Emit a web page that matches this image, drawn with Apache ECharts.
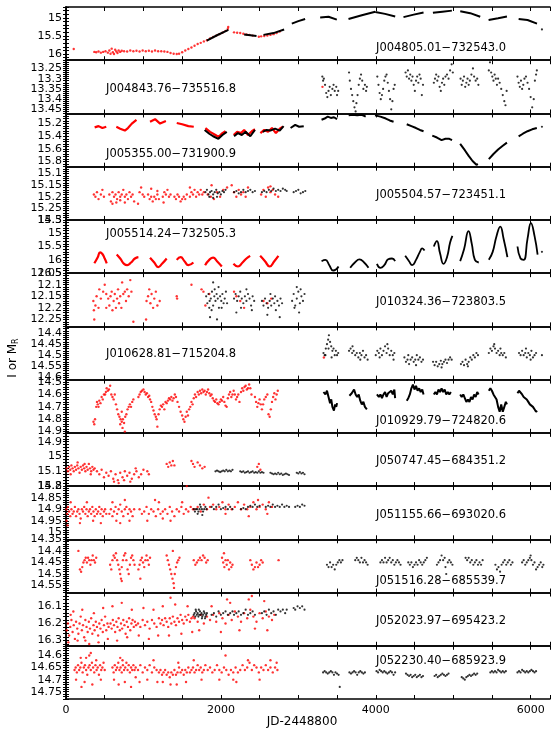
<!DOCTYPE html>
<html>
<head>
<meta charset="utf-8">
<script src="https://cdn.jsdelivr.net/npm/echarts@6/dist/echarts.min.js"></script>
<style>
html, body { margin: 0; padding: 0; background: #fff; }
#chart { width: 556px; height: 741px; }
</style>
</head>
<body>
<div id="chart"></div>
<script>
// star names, one per panel, top to bottom
const starNames = [
  'J004805.01−732543.0', 'J004843.76−735516.8', 'J005355.00−731900.9',
  'J005504.57−723451.1', 'J005514.24−732505.3', 'J010324.36−723803.5',
  'J010628.81−715204.8', 'J010929.79−724820.6', 'J050747.45−684351.2',
  'J051155.66−693020.6', 'J051516.28−685539.7', 'J052023.97−695423.2',
  'J052230.40−685923.9'
];
const nameX = [376, 106, 106, 376, 106, 376, 106, 376, 376, 376, 376, 376, 376];
const nameY = [48, 89, 154, 195, 234, 302, 354, 421, 461, 515, 581, 621, 661];

// magnitude axes (inverted), tick step and label step
const yMin = [14.7, 13.21, 15.04, 15.07, 14.5, 12.05, 14.37, 14.48, 14.84, 14.8, 14.35, 16.02, 14.56];
const yMax = [16.17, 13.47, 15.88, 15.3, 16.5, 12.28, 14.61, 14.91, 15.2, 15.03, 14.58, 16.33, 14.78];
const yStep = [0.1, 0.01, 0.04, 0.01, 0.1, 0.01, 0.01, 0.02, 0.02, 0.01, 0.01, 0.02, 0.01];
const yLabelStep = [0.5, 0.05, 0.2, 0.05, 0.5, 0.05, 0.05, 0.1, 0.1, 0.05, 0.05, 0.1, 0.05];

const xTickLabels = [0, 2000, 4000, 6000];

// ---- panel 1
const p1Red = [[100,15.86],
  [366,15.94],[390,15.95],[420,15.93],[450,15.96],[480,15.94],[510,15.92],[540,15.96],[560,15.9],[575,15.99],[590,15.85],[605,15.95],[620,16.0],[635,15.88],[650,15.93],[665,15.97],[680,15.9],[700,15.94],[720,15.91],
  [750,15.92],[790,15.93],[830,15.9],[870,15.92],[910,15.91],[950,15.93],[990,15.9],[1030,15.92],[1070,15.91],[1110,15.93],[1150,15.9],[1190,15.92],[1230,15.92],[1270,15.93],[1310,15.94],
  [1350,15.97],[1390,15.99],[1430,16.0],[1460,15.99],
  [1500,15.95],[1540,15.9],[1580,15.86],[1620,15.82],[1660,15.77],[1700,15.72],[1740,15.69],[1780,15.65],[1820,15.62],[1860,15.57],[1900,15.53],[1940,15.49],[1980,15.45],[2020,15.41],[2060,15.36],[2090,15.3],[2095,15.25],
  [2170,15.4],[2210,15.41],[2250,15.42],[2290,15.44],[2330,15.46],[2370,15.47],[2410,15.49],
  [2490,15.52],[2520,15.51],[2560,15.5],[2600,15.49],[2640,15.47],[2680,15.45],[2720,15.42],[2760,15.38]];
const p1BlackSegs = [
  [[1818,15.63],[1950,15.48],[2097,15.33]],
  [[2300,15.46],[2460,15.5]],
  [[2550,15.47],[2680,15.42],[2817,15.32]],
  [[2916,15.16],[3000,15.09],[3088,15.03]],
  [[3282,14.99],[3390,14.97],[3497,15.05]],
  [[3648,15.03],[3820,14.93],[3993,14.83]],
  [[3993,14.84],[4120,14.89],[4251,14.96]],
  [[4358,14.98],[4490,14.91],[4617,14.85]],
  [[4738,14.86],[4860,14.83],[4983,14.8]],
  [[5091,14.82],[5220,14.87],[5349,14.97]],
  [[5457,15.06],[5580,15.01],[5694,14.96]],
  [[5845,15.03],[5960,15.06],[6082,15.16]]];
const p1Black = [[6146,15.32]];

// ---- panel 2
const p2Red = [[3312,13.34]];
const p2Black = [
  [3310,13.29],[3320,13.31],[3330,13.3],[3345,13.33],[3360,13.37],[3375,13.39],[3390,13.36],[3405,13.34],[3420,13.38],[3440,13.35],[3455,13.33],[3470,13.36],[3490,13.34],[3500,13.38],[3515,13.36],
  [3655,13.27],[3665,13.31],[3680,13.35],[3695,13.38],[3710,13.41],[3725,13.44],[3740,13.46],[3750,13.42],[3765,13.38],[3780,13.33],[3795,13.3],[3810,13.28],[3825,13.31],[3840,13.35],[3860,13.33],[3875,13.36],[3885,13.34],
  [4020,13.29],[4035,13.33],[4050,13.37],[4065,13.4],[4080,13.38],[4095,13.35],[4110,13.31],[4125,13.29],[4140,13.28],[4155,13.32],[4170,13.36],[4185,13.4],[4200,13.45],[4215,13.41],[4230,13.35],[4245,13.33],
  [4385,13.27],[4400,13.29],[4415,13.26],[4430,13.3],[4445,13.28],[4460,13.31],[4475,13.29],[4490,13.33],[4505,13.36],[4520,13.31],[4535,13.29],[4550,13.32],[4565,13.28],[4580,13.3],[4595,13.38],[4610,13.33],
  [4750,13.32],[4765,13.3],[4780,13.28],[4795,13.31],[4810,13.29],[4825,13.34],[4840,13.36],[4855,13.32],[4870,13.3],[4885,13.33],[4900,13.29],[4920,13.28],[4940,13.3],[4960,13.26],[4980,13.23],[4995,13.27],
  [5095,13.3],[5110,13.33],[5125,13.31],[5140,13.29],[5155,13.34],[5170,13.32],[5185,13.3],[5200,13.33],[5215,13.31],[5235,13.28],[5255,13.25],[5270,13.29],[5290,13.31],[5310,13.3],[5325,13.33],
  [5460,13.26],[5475,13.22],[5490,13.27],[5505,13.29],[5520,13.31],[5535,13.28],[5550,13.3],[5565,13.33],[5580,13.3],[5600,13.32],[5620,13.35],[5640,13.38],[5660,13.41],[5675,13.43],[5690,13.36],
  [5830,13.29],[5845,13.32],[5860,13.34],[5875,13.31],[5890,13.35],[5905,13.33],[5920,13.3],[5940,13.29],[5960,13.32],[5980,13.35],[6000,13.39],[6020,13.44],[6040,13.4],[6055,13.31],[6070,13.28],[6080,13.26]];

// ---- panel 3
const p3RedSegs = [
  [[370,15.26],[420,15.24],[470,15.27],[520,15.25]],
  [[650,15.25],[700,15.28],[760,15.31],[800,15.27],[850,15.2],[910,15.14]],
  [[1085,15.17],[1150,15.13],[1215,15.2],[1290,15.16]],
  [[1430,15.19],[1500,15.21],[1580,15.24],[1650,15.25]],
  [[1800,15.27],[1860,15.33],[1930,15.38],[1970,15.41],[2010,15.36],[2060,15.32]],
  [[2165,15.38],[2210,15.33],[2260,15.35],[2300,15.3],[2350,15.38],[2400,15.32],[2440,15.29]],
  [[2510,15.35],[2560,15.3],[2610,15.33],[2660,15.27],[2710,15.35],[2760,15.28],[2800,15.25]]];
const p3BlackSegs = [
  [[1790,15.3],[1850,15.36],[1900,15.4],[1968,15.44],[2020,15.38],[2076,15.33]],
  [[2170,15.4],[2220,15.35],[2270,15.38],[2320,15.33],[2380,15.4],[2440,15.3]],
  [[2540,15.33],[2590,15.3],[2640,15.31],[2700,15.28],[2760,15.31],[2810,15.24]],
  [[2900,15.27],[2960,15.22],[3010,15.25],[3070,15.24]],
  [[3300,15.14],[3340,15.12],[3380,15.09],[3420,15.11],[3460,15.1],[3500,15.13]],
  [[3650,15.07],[3700,15.06],[3760,15.07],[3820,15.06],[3870,15.09]],
  [[3990,15.07],[4060,15.09],[4130,15.12],[4180,15.15],[4230,15.17]],
  [[4400,15.21],[4460,15.24],[4520,15.27],[4570,15.3],[4617,15.32]],
  [[4730,15.39],[4790,15.42],[4850,15.46],[4900,15.44],[4950,15.44],[4985,15.46]],
  [[5090,15.52],[5150,15.62],[5200,15.71],[5250,15.79],[5300,15.85],[5320,15.84]],
  [[5460,15.76],[5520,15.68],[5580,15.61],[5640,15.55],[5694,15.5]],
  [[5845,15.4],[5900,15.36],[5960,15.32],[6020,15.29],[6080,15.27]]];
const p3Black = [[6146,15.25]];

// ---- panel 4
const p4Red = [
  [360,15.19],[380,15.2],[400,15.18],[420,15.21],[450,15.19],[470,15.17],[490,15.2],
  [560,15.19],[580,15.22],[600,15.18],[620,15.2],[640,15.19],[660,15.21],[680,15.18],[700,15.2],[720,15.19],[740,15.17],[760,15.2],[780,15.19],[800,15.21],[820,15.18],[840,15.2],[860,15.19],[880,15.22],[600,15.23],[650,15.225],[700,15.215],
  [950,15.18],[970,15.16],[990,15.19],[1010,15.2],
  [1060,15.19],[1080,15.21],[1100,15.2],[1120,15.22],[1140,15.2],[1160,15.21],[1180,15.19],[1200,15.21],
  [1250,15.2],[1270,15.18],[1290,15.19],[1310,15.17],[1330,15.2],[1350,15.19],
  [1400,15.2],[1420,15.21],[1440,15.19],[1460,15.2],[1480,15.22],[1500,15.21],[1520,15.2],[1540,15.21],[1560,15.19],
  [1600,15.2],[1620,15.18],[1640,15.19],[1660,15.17],[1680,15.2],[1700,15.18],[1720,15.19],[1740,15.17],[1760,15.19],[1780,15.18],
  [1830,15.19],[1870,15.2],[1910,15.21],[1950,15.18],[1990,15.2],[2030,15.17],[2080,15.16],
  [2170,15.18],[2200,15.2],[2230,15.17],[2260,15.19],[2290,15.18],[2320,15.2],[2350,15.16],
  [2520,15.19],[2550,15.17],[2580,15.2],[2610,15.16],[2640,15.18],[2670,15.17],[2700,15.19],[2740,15.2],
  [1100,15.165],[1180,15.175],[1600,15.16],[2140,15.15],[2640,15.155],[1880,15.15],[930,15.23],[1260,15.225],[760,15.225]];
const p4Black = [
  [1800,15.18],[1820,15.17],[1840,15.19],[1860,15.18],[1880,15.175],[1900,15.19],[1920,15.18],[1940,15.17],[1960,15.185],[1980,15.18],[2000,15.19],[2020,15.175],[2040,15.18],[2060,15.17],[1850,15.2],[1900,15.205],[1950,15.2],
  [2170,15.18],[2200,15.175],[2230,15.185],[2260,15.18],[2290,15.17],[2320,15.18],[2350,15.175],[2380,15.17],[2410,15.18],[2440,15.175],
  [2530,15.18],[2560,15.175],[2590,15.18],[2620,15.17],[2650,15.175],[2680,15.165],[2710,15.175],[2740,15.17],[2770,15.175],[2800,15.165],[2830,15.17],[2850,15.175],
  [2940,15.18],[2970,15.175],[3000,15.17],[3030,15.185],[3060,15.18],[3090,15.175]];

// ---- panel 5
const p5RedSegs = [
  [[366,16.13],[410,15.9],[440,15.72],[470,15.78],[500,15.95],[526,16.13]],
  [[655,15.8],[700,15.95],[750,16.15],[790,16.2],[840,16.1],[890,15.95],[935,15.9]],
  [[1085,15.92],[1140,16.1],[1190,16.27],[1240,16.15],[1300,15.95]],
  [[1430,16.0],[1480,15.9],[1530,16.05],[1580,16.2],[1645,16.1]],
  [[1796,16.2],[1850,16.0],[1900,15.92],[1950,16.05],[2012,16.25]],
  [[2162,16.15],[2220,16.25],[2280,16.1],[2330,15.95],[2378,15.85]],
  [[2507,15.85],[2570,16.05],[2630,16.25],[2690,16.05],[2743,15.85]]];
const p5BlackSegs = [
  [[3300,16.05],[3350,16.0],[3400,16.2],[3450,16.4],[3490,16.35],[3519,16.25]],
  [[3670,16.3],[3730,16.1],[3790,15.98],[3850,16.1],[3906,16.3]],
  [[4015,16.15],[4060,16.3],[4110,16.2],[4160,15.98],[4210,15.95],[4250,16.05]],
  [[4380,15.85],[4430,16.05],[4470,16.2],[4520,16.0],[4570,15.7],[4600,15.57],[4630,15.65]],
  [[4750,15.5],[4789,15.3],[4830,15.75],[4875,16.15],[4920,15.9],[4960,15.35],[4990,15.1]],
  [[5090,16.05],[5140,15.6],[5198,14.92],[5240,15.4],[5280,16.0],[5330,16.1]],
  [[5460,16.0],[5510,15.7],[5560,15.1],[5608,14.75],[5650,15.2],[5700,15.9]],
  [[5830,15.5],[5870,15.95],[5910,16.0],[5960,15.2],[6004,14.62],[6050,15.1],[6090,15.8]]];
const p5Black = [[6146,15.7]];

// ---- panel 6
const p6Red = [
  [353,12.17],[360,12.21],[365,12.25],[380,12.19],[395,12.15],[420,12.2],[430,12.12],[450,12.16],[480,12.13],[500,12.1],[520,12.14],[545,12.16],[560,12.19],[575,12.15],[590,12.13],[600,12.21],[615,12.17],[630,12.14],[645,12.2],[660,12.16],[672,12.12],[685,12.18],[700,12.15],[715,12.2],[725,12.09],[740,12.14],[760,12.13],[775,12.17],[790,12.12],[810,12.15],[830,12.08],[845,12.13],
  [1040,12.17],[1060,12.15],[1075,12.12],[1090,12.18],[1105,12.14],[1125,12.2],[1140,12.16],[1160,12.13],[1180,12.19],[1210,12.17],[870,12.26],[520,12.2],[1034,12.25],
  [1430,12.15],[1435,12.16],
  [1750,12.12],[1775,12.13],[1800,12.19],[1850,12.14],[2200,12.15],[2250,12.17],[2300,12.2],[2170,12.13],[2550,12.17],[2600,12.18],[2650,12.16],[1620,12.1]];
const p6Black = [
  [1810,12.15],[1825,12.18],[1840,12.14],[1855,12.17],[1870,12.16],[1885,12.13],[1900,12.19],[1915,12.15],[1930,12.17],[1945,12.14],[1960,12.16],[1975,12.2],[1990,12.15],[2005,12.17],[2020,12.14],[2035,12.18],[2050,12.16],[2065,12.13],[1850,12.2],[1880,12.21],[1920,12.12],[1970,12.11],[2010,12.2],[1860,12.24],[1950,12.25],[1900,12.09],[2080,12.18],
  [2170,12.16],[2190,12.14],[2210,12.17],[2230,12.15],[2250,12.13],[2270,12.16],[2290,12.18],[2310,12.15],[2330,12.17],[2350,12.14],[2370,12.16],[2390,12.19],[2410,12.15],[2430,12.17],[2260,12.2],[2330,12.12],[2400,12.21],[2200,12.22],
  [2530,12.17],[2550,12.19],[2570,12.16],[2590,12.18],[2610,12.2],[2630,12.17],[2650,12.19],[2670,12.16],[2690,12.18],[2710,12.21],[2730,12.17],[2750,12.19],[2770,12.16],[2790,12.18],[2600,12.23],[2700,12.15],[2760,12.24],[2640,12.14],
  [2920,12.17],[2940,12.14],[2960,12.19],[2980,12.16],[3000,12.13],[3020,12.18],[3040,12.15],[3060,12.17],[3080,12.14],[2950,12.2],[3010,12.22],[2980,12.11],[3030,12.12]];

// ---- panel 7
const p7Red = [[3330,14.51]];
const p7Black = [
  [3325,14.49],[3340,14.5],[3355,14.47],[3370,14.45],[3385,14.43],[3395,14.41],[3410,14.44],[3425,14.46],[3440,14.48],[3455,14.47],[3470,14.5],[3485,14.48],[3500,14.5],[3515,14.49],[3390,14.47],[3430,14.51],[3350,14.5],
  [3655,14.48],[3675,14.47],[3695,14.49],[3715,14.48],[3735,14.5],[3755,14.49],[3775,14.51],[3795,14.49],[3815,14.5],[3835,14.48],[3855,14.51],[3875,14.5],[3895,14.52],[3700,14.46],[3800,14.52],
  [4000,14.5],[4020,14.48],[4040,14.49],[4060,14.47],[4080,14.5],[4100,14.48],[4120,14.46],[4140,14.49],[4160,14.47],[4180,14.5],[4200,14.48],[4220,14.5],[4240,14.49],[4050,14.51],[4150,14.45],[4230,14.52],
  [4370,14.51],[4390,14.53],[4410,14.52],[4430,14.54],[4450,14.52],[4470,14.51],[4490,14.53],[4510,14.52],[4530,14.5],[4550,14.52],[4570,14.51],[4590,14.53],[4610,14.52],[4420,14.5],[4520,14.545],
  [4740,14.53],[4760,14.545],[4780,14.53],[4800,14.55],[4820,14.54],[4840,14.525],[4860,14.54],[4880,14.53],[4900,14.52],[4920,14.535],[4940,14.52],[4960,14.51],[4980,14.52],[4850,14.555],
  [5100,14.54],[5120,14.53],[5140,14.545],[5160,14.52],[5180,14.54],[5200,14.53],[5220,14.51],[5240,14.52],[5260,14.5],[5280,14.51],[5300,14.49],[5320,14.5],[5190,14.55],
  [5460,14.49],[5480,14.47],[5500,14.48],[5520,14.46],[5540,14.47],[5560,14.49],[5580,14.48],[5600,14.5],[5620,14.49],[5640,14.5],[5660,14.49],[5680,14.51],[5530,14.45],[5610,14.47],
  [5850,14.49],[5870,14.5],[5890,14.48],[5910,14.5],[5930,14.49],[5950,14.51],[5970,14.49],[5990,14.5],[6010,14.48],[6030,14.51],[6050,14.5],[6070,14.49],[5940,14.47],[6000,14.52],[6146,14.5]];

// ---- panel 8
const p8Red = [
  [355,14.82],[365,14.84],[375,14.8],
  [390,14.7],[400,14.66],[410,14.68],[420,14.7],[430,14.65],[445,14.67],[460,14.62],[475,14.64],[490,14.6],[505,14.6],[515,14.58],[525,14.55],
  [540,14.57],[555,14.56],[570,14.53],[585,14.6],[600,14.62],[615,14.64],[630,14.6],
  [645,14.68],[660,14.72],[675,14.76],[690,14.78],[705,14.8],[720,14.82],[735,14.8],[750,14.83],[765,14.78],[780,14.76],[795,14.72],[810,14.7],[825,14.68],[840,14.7],[855,14.66],[870,14.64],[730,14.87],[760,14.9],[700,14.84],[720,14.74],
  [935,14.62],[950,14.6],[965,14.58],[980,14.57],[1000,14.56],[1015,14.58],[1030,14.6],[1045,14.59],[1060,14.62],[1075,14.61],[1085,14.64],
  [1100,14.66],[1115,14.7],[1130,14.73],[1145,14.76],[1160,14.78],[1170,14.8],[1180,14.86],[1195,14.76],[1210,14.72],
  [1225,14.69],[1240,14.7],[1255,14.68],[1270,14.72],[1285,14.66],[1300,14.67],[1315,14.65],[1330,14.63],[1345,14.64],[1360,14.62],[1375,14.65],
  [1390,14.63],[1405,14.6],[1420,14.62],[1440,14.66],[1460,14.7],[1480,14.74],[1500,14.77],[1515,14.8],[1530,14.82],[1545,14.78],[1560,14.74],[1575,14.77],[1590,14.72],[1605,14.7],[1620,14.66],[1635,14.68],
  [1650,14.63],[1665,14.6],[1680,14.62],[1700,14.58],[1715,14.6],[1730,14.57],[1745,14.59],[1760,14.56],[1775,14.58],[1790,14.57],[1805,14.6],[1820,14.58],[1835,14.56],[1850,14.59],[1865,14.61],[1880,14.6],[1895,14.63],
  [1910,14.65],[1925,14.66],[1940,14.64],[1955,14.67],[1970,14.68],[1985,14.66],[2000,14.64],[2015,14.65],[2030,14.62],[2045,14.66],[2060,14.69],[2075,14.7],
  [2090,14.63],[2105,14.6],[2120,14.58],[2135,14.62],[2150,14.6],[2165,14.57],[2180,14.6],[2195,14.64],[2210,14.62],[2225,14.6],[2240,14.66],
  [2260,14.58],[2275,14.55],[2290,14.57],[2305,14.54],[2320,14.53],[2335,14.56],[2350,14.55],[2365,14.52],[2380,14.55],[2395,14.6],
  [2440,14.62],[2455,14.66],[2470,14.7],[2485,14.67],[2500,14.64],[2515,14.68],[2530,14.72],[2545,14.68],[2560,14.64],[2580,14.62],[2600,14.6],[2615,14.76],[2630,14.78],[2645,14.72],[2660,14.66],[2675,14.62],[2690,14.59],[2705,14.64],[2720,14.6],[2735,14.57]];
const p8BlackSegs = [
  [[3325,14.58],[3350,14.6],[3370,14.57],[3390,14.62],[3410,14.67],[3425,14.64],[3440,14.7],[3460,14.73],[3475,14.68],[3490,14.7],[3500,14.67]],
  [[3660,14.61],[3690,14.59],[3720,14.56],[3740,14.6],[3760,14.62],[3780,14.6],[3800,14.65],[3820,14.68],[3840,14.66],[3860,14.7],[3885,14.72]],
  [[4015,14.6],[4040,14.62],[4060,14.6],[4080,14.63],[4100,14.6],[4120,14.58],[4140,14.62],[4160,14.59],[4180,14.6],[4200,14.57],[4220,14.6],[4240,14.56],[4250,14.63]],
  [[4400,14.65],[4420,14.63],[4440,14.6],[4460,14.55],[4480,14.52],[4500,14.56],[4520,14.53],[4540,14.57],[4560,14.55],[4580,14.58],[4600,14.56],[4617,14.6]],
  [[4750,14.6],[4770,14.58],[4790,14.6],[4810,14.56],[4830,14.58],[4850,14.55],[4870,14.58],[4890,14.56],[4910,14.6],[4930,14.58],[4950,14.6],[4970,14.58]],
  [[5090,14.6],[5110,14.62],[5130,14.6],[5150,14.63],[5170,14.66],[5190,14.64],[5210,14.66],[5230,14.62],[5250,14.64],[5270,14.6],[5290,14.62],[5310,14.58],[5328,14.6]],
  [[5460,14.57],[5480,14.55],[5500,14.57],[5520,14.6],[5540,14.6],[5560,14.64],[5580,14.7],[5600,14.74],[5620,14.68],[5640,14.74],[5660,14.7],[5680,14.66],[5694,14.68]],
  [[5830,14.59],[5850,14.57],[5870,14.58],[5890,14.6],[5910,14.62],[5930,14.61],[5950,14.64],[5970,14.66],[5990,14.68],[6010,14.67],[6030,14.7],[6050,14.72],[6070,14.74],[6082,14.73]]];

// ---- panel 9
const p9Red = [
  [10,15.08],[25,15.1],[40,15.07],[55,15.09],[70,15.06],[85,15.08],[100,15.1],[115,15.07],[130,15.09],[145,15.06],[160,15.08],[175,15.11],[190,15.07],[205,15.09],[220,15.06],[235,15.08],[250,15.1],[265,15.07],[280,15.09],[295,15.05],[310,15.08],[325,15.1],[340,15.07],[355,15.09],[370,15.08],[60,15.12],[150,15.04],[240,15.05],[320,15.12],
  [400,15.1],[430,15.12],[460,15.09],[490,15.14],[520,15.11],[550,15.13],[580,15.1],[610,15.15],[640,15.12],[670,15.16],[700,15.11],[730,15.14],[760,15.1],[790,15.13],[820,15.11],[850,15.15],[880,15.12],[910,15.1],[940,15.14],[970,15.12],[1000,15.09],[620,15.17],[680,15.18],[750,15.16],[830,15.17],[900,15.08],[1050,15.1],[1070,15.12],
  [1300,15.05],[1320,15.07],[1340,15.04],[1360,15.06],[1380,15.03],[1400,15.06],[1620,15.03],[1640,15.05],[1660,15.07],[1700,15.04],[1730,15.06],[1760,15.08],[1790,15.07],[2470,15.07],[2490,15.05],[2510,15.09]];
const p9Black = [
  [1930,15.1],[1950,15.095],[1970,15.1],[1990,15.105],[2010,15.1],[2030,15.095],[2050,15.1],[2070,15.09],[2090,15.1],[2110,15.095],[2130,15.1],[2150,15.09],
  [2250,15.1],[2270,15.105],[2290,15.1],[2310,15.11],[2330,15.105],[2350,15.1],[2370,15.11],[2390,15.105],[2410,15.1],[2430,15.11],[2450,15.105],[2470,15.11],[2490,15.1],[2510,15.11],[2530,15.105],[2550,15.11],
  [2640,15.11],[2660,15.115],[2680,15.12],[2700,15.115],[2720,15.12],[2740,15.11],[2760,15.12],[2780,15.115],[2800,15.125],[2820,15.12],[2840,15.115],[2860,15.12],[2880,15.125],
  [2980,15.11],[3000,15.115],[3020,15.105],[3040,15.115],[3060,15.11],[3080,15.12]];

// ---- panel 10
const p10Red = [
  [5,14.9],[15,14.92],[25,14.89],[40,14.91],[55,14.93],[70,14.9],[85,14.92],[100,14.91],[115,14.89],[130,14.93],[145,14.91],[160,14.9],[175,14.92],[190,14.94],[205,14.9],[220,14.91],[235,14.89],[250,14.92],[265,14.9],[280,14.93],[295,14.91],[310,14.9],[325,14.92],[340,14.89],[355,14.91],[370,14.93],[385,14.9],[400,14.92],[415,14.91],[430,14.89],[445,14.92],[460,14.9],[475,14.93],[490,14.91],[505,14.9],[520,14.92],[8,14.95],[20,14.97],[60,14.87],[180,14.96],[270,14.87],[350,14.95],[450,14.96],
  [560,14.92],[580,14.9],[600,14.93],[620,14.91],[640,14.89],[660,14.92],[680,14.9],[700,14.88],[720,14.91],[740,14.93],[760,14.9],[780,14.89],[800,14.92],[820,14.9],[840,14.91],[860,14.93],[880,14.9],[600,14.87],[650,14.95],[700,14.96],[760,14.86],[820,14.95],
  [950,14.9],[980,14.92],[1010,14.91],[1040,14.89],[1070,14.92],[1100,14.9],[1130,14.91],[1160,14.93],[1190,14.9],[1220,14.92],[1250,14.91],[1280,14.9],[1310,14.92],[1340,14.89],[1370,14.91],[1400,14.93],[1430,14.9],[1460,14.91],[1490,14.89],[1520,14.92],[1550,14.9],[1580,14.91],[1610,14.89],[1640,14.9],[1050,14.95],[1200,14.87],[1350,14.95],[1500,14.87],[1250,14.94],[1150,14.86],
  [1660,14.9],[1700,14.89],[1740,14.91],[1780,14.88],[1820,14.9],[1860,14.89],[1900,14.88],[1940,14.9],[1980,14.89],[2020,14.87],[2060,14.9],[2100,14.88],[2140,14.9],[2180,14.89],[2220,14.87],[2260,14.9],[2300,14.88],[2340,14.9],[2380,14.89],[2420,14.87],[2460,14.9],[2500,14.89],[2540,14.88],[2580,14.9],[2620,14.87],[2660,14.89],[1560,14.8],[1840,14.85],[2060,14.92],[2360,14.93],[2600,14.92],[2480,14.86]];
const p10Black = [
  [1650,14.9],[1665,14.91],[1680,14.9],[1695,14.9],[1710,14.91],[1725,14.9],[1740,14.89],[1755,14.9],[1770,14.91],[1785,14.9],[1800,14.89],[1815,14.9],[1700,14.92],[1760,14.925],[1730,14.88],
  [1880,14.89],[1910,14.9],[1940,14.89],[1970,14.88],[2000,14.9],[2030,14.895],[2060,14.89],[2090,14.9],[2120,14.89],[2150,14.9],
  [2260,14.9],[2290,14.895],[2320,14.9],[2350,14.89],[2380,14.885],[2410,14.89],[2440,14.88],[2470,14.89],[2500,14.885],
  [2580,14.89],[2610,14.885],[2640,14.89],[2670,14.88],[2700,14.89],[2730,14.885],[2760,14.89],[2790,14.88],[2820,14.89],[2850,14.885],[2880,14.89],
  [2960,14.89],[2990,14.885],[3020,14.89],[3050,14.88],[3080,14.885]];

// ---- panel 11
const p11Red = [
  [180,14.48],[195,14.49],[210,14.47],[225,14.45],[240,14.44],[255,14.43],[270,14.45],[285,14.43],[300,14.44],[315,14.46],[330,14.44],[345,14.42],[360,14.44],[375,14.45],[390,14.43],[160,14.4],
  [570,14.46],[585,14.48],[600,14.44],[615,14.42],[630,14.43],[645,14.41],[660,14.44],[675,14.46],[690,14.48],[700,14.5],[710,14.52],[720,14.47],[735,14.44],[750,14.42],[765,14.41],[780,14.44],[795,14.48],[810,14.5],[825,14.46],[840,14.43],[855,14.42],[870,14.44],[885,14.46],[720,14.53],
  [935,14.48],[950,14.46],[965,14.44],[980,14.43],[995,14.45],[1010,14.47],[1025,14.44],[1040,14.42],[1055,14.44],[1070,14.46],[1085,14.43],[960,14.52],
  [1300,14.42],[1315,14.44],[1330,14.46],[1345,14.48],[1360,14.5],[1375,14.52],[1390,14.54],[1405,14.5],[1420,14.47],[1435,14.45],[1450,14.44],[1465,14.43],[1380,14.4],[1395,14.56],
  [1650,14.44],[1670,14.46],[1690,14.45],[1710,14.44],[1730,14.43],[1750,14.44],[1770,14.42],[1790,14.43],[1810,14.45],[1830,14.44],
  [2015,14.43],[2030,14.45],[2045,14.47],[2060,14.44],[2075,14.46],[2090,14.44],[2105,14.48],[2120,14.45],[2135,14.47],[2150,14.46],[2040,14.41],
  [2380,14.44],[2400,14.46],[2420,14.48],[2440,14.47],[2460,14.45],[2480,14.47],[2500,14.46],[2520,14.44],[2540,14.45],
  [2745,14.44]];
const p11Black = [
  [3370,14.46],[3390,14.47],[3410,14.45],[3430,14.47],[3450,14.46],[3470,14.48],[3490,14.46],[3510,14.45],[3530,14.44],[3550,14.45],[3570,14.44],
  [3735,14.44],[3755,14.43],[3775,14.44],[3795,14.45],[3815,14.43],[3835,14.45],[3855,14.44],[3875,14.45],[3895,14.46],
  [4060,14.45],[4080,14.44],[4100,14.45],[4120,14.43],[4140,14.45],[4160,14.44],[4180,14.43],[4200,14.45],[4220,14.44],[4240,14.46],[4260,14.45],[4280,14.44],[4300,14.45],[4320,14.46],
  [4420,14.45],[4440,14.46],[4460,14.45],[4480,14.47],[4500,14.46],[4520,14.45],[4540,14.46],[4560,14.44],[4580,14.45],[4600,14.46],[4620,14.45],[4640,14.44],[4660,14.43],
  [4790,14.46],[4810,14.45],[4830,14.44],[4850,14.42],[4870,14.44],[4890,14.43],[4900,14.47],[4910,14.5],[4930,14.45],[4950,14.44],[4970,14.45],[4990,14.46],
  [5160,14.43],[5180,14.44],[5200,14.43],[5220,14.45],[5240,14.44],[5260,14.46],[5280,14.45],[5300,14.44],[5320,14.46],[5340,14.45],[5360,14.46],[5380,14.44],
  [5545,14.46],[5565,14.48],[5585,14.47],[5605,14.49],[5625,14.46],[5645,14.45],[5665,14.44],[5685,14.46],[5705,14.45],[5725,14.44],[5745,14.46],[5765,14.45],
  [5890,14.45],[5910,14.44],[5930,14.46],[5950,14.45],[5970,14.44],[5990,14.43],[6010,14.44],[6030,14.46],[6050,14.45],[6070,14.48],[6090,14.47],[6110,14.46],[6130,14.45],[6150,14.47],[6165,14.46],[6000,14.42]];

// ---- panel 12
const p12Red = [
  [10,16.24],[25,16.2],[40,16.27],[55,16.22],[70,16.18],[85,16.25],[100,16.21],[115,16.29],[130,16.19],[145,16.23],[160,16.26],[175,16.2],[190,16.16],[205,16.24],[220,16.21],[235,16.28],[250,16.18],[265,16.22],[280,16.25],[295,16.19],[310,16.23],[325,16.17],[340,16.26],[355,16.21],[370,16.24],[385,16.19],[400,16.22],[415,16.27],[430,16.2],[445,16.23],[460,16.18],[475,16.25],[490,16.21],[505,16.16],[520,16.24],[535,16.2],[550,16.22],
  [30,16.31],[95,16.13],[150,16.3],[210,16.12],[300,16.32],[360,16.14],[420,16.31],[480,16.11],[540,16.29],[60,16.15],[250,16.3],
  [575,16.2],[590,16.23],[605,16.18],[620,16.21],[635,16.25],[650,16.19],[665,16.22],[680,16.17],[695,16.24],[710,16.2],[725,16.23],[740,16.18],[755,16.21],[770,16.26],[785,16.19],[800,16.22],[815,16.17],[830,16.24],[845,16.2],[860,16.18],[875,16.22],[890,16.19],[905,16.21],[930,16.2],[960,16.22],[990,16.18],[1020,16.21],[1050,16.19],[1080,16.23],[1110,16.18],[1140,16.2],[1170,16.22],[1200,16.17],
  [600,16.1],[660,16.3],[720,16.08],[790,16.28],[850,16.12],[940,16.27],[1000,16.11],[1070,16.29],[1130,16.12],[1190,16.27],
  [1220,16.2],[1240,16.18],[1260,16.21],[1280,16.17],[1300,16.19],[1320,16.22],[1340,16.17],[1360,16.2],[1380,16.16],[1400,16.19],[1420,16.21],[1440,16.17],[1460,16.19],[1480,16.15],[1500,16.18],[1520,16.2],[1540,16.16],[1560,16.18],[1580,16.15],[1600,16.19],[1620,16.17],[1640,16.16],
  [1250,16.1],[1330,16.27],[1410,16.09],[1490,16.26],[1570,16.1],[1630,16.25],[1350,16.05],
  [1660,16.17],[1700,16.19],[1740,16.15],[1780,16.2],[1820,16.16],[1860,16.18],[1900,16.15],[1940,16.19],[1980,16.14],[2020,16.17],[2060,16.2],[2100,16.15],[2140,16.18],[2180,16.13],[2220,16.16],[2260,16.19],[2300,16.14],[2340,16.17],[2380,16.12],[2420,16.16],[2460,16.19],[2500,16.14],[2540,16.17],[2580,16.13],[2620,16.16],[2660,16.18],[2690,16.15],
  [1720,16.24],[1880,16.1],[2000,16.25],[2120,16.08],[2240,16.24],[2360,16.06],[2440,16.23],[2560,16.07],[2600,16.24],[2400,16.04],[2080,16.06]];
const p12Black = [
  [1650,16.15],[1660,16.14],[1670,16.16],[1680,16.13],[1690,16.15],[1700,16.14],[1710,16.16],[1720,16.15],[1730,16.13],[1740,16.15],[1750,16.14],[1760,16.16],[1770,16.15],[1780,16.13],[1790,16.14],[1800,16.16],[1810,16.15],[1820,16.14],[1675,16.12],[1715,16.12],[1755,16.17],[1795,16.17],
  [1880,16.15],[1910,16.14],[1940,16.16],[1970,16.13],[2000,16.15],[2030,16.14],[2060,16.13],[2090,16.15],[2120,16.14],[2150,16.13],
  [2170,16.15],[2200,16.14],[2230,16.13],[2260,16.15],[2290,16.14],[2320,16.12],[2350,16.15],[2380,16.14],[2410,16.13],[2440,16.15],
  [2530,16.14],[2560,16.13],[2590,16.15],[2620,16.12],[2650,16.14],[2680,16.13],[2710,16.15],[2740,16.12],[2770,16.13],[2800,16.12],[2830,16.14],[2850,16.12],
  [2940,16.11],[2960,16.12],[2990,16.1],[3020,16.11],[3050,16.1],[3080,16.12]];

// ---- panel 13
const p13Red = [
  [110,14.66],[125,14.65],[140,14.67],[155,14.64],[170,14.66],[185,14.65],[200,14.63],[215,14.67],[230,14.65],[245,14.64],[260,14.66],[275,14.68],[290,14.65],[305,14.64],[320,14.66],[335,14.63],[350,14.65],[365,14.67],[380,14.64],[395,14.66],[410,14.65],[425,14.68],[440,14.64],[455,14.66],[470,14.65],[485,14.63],[500,14.66],
  [130,14.7],[190,14.61],[240,14.71],[300,14.6],[340,14.72],[390,14.62],[450,14.7],[260,14.61],[320,14.59],[200,14.73],
  [600,14.65],[615,14.67],[630,14.64],[645,14.66],[660,14.65],[675,14.63],[690,14.66],[705,14.65],[720,14.67],[735,14.64],[750,14.66],[765,14.65],[780,14.63],[795,14.66],[810,14.64],[825,14.67],[840,14.65],[855,14.66],[870,14.64],[885,14.66],[900,14.65],[930,14.66],[960,14.64],[990,14.67],[1020,14.65],[1050,14.66],[1080,14.64],[1110,14.67],[1140,14.65],[1170,14.66],[1200,14.67],
  [620,14.7],[680,14.72],[700,14.61],[760,14.71],[840,14.73],[900,14.69],[950,14.71],[1050,14.7],[1130,14.62],[1180,14.71],[730,14.62],
  [1220,14.66],[1240,14.68],[1260,14.67],[1280,14.66],[1300,14.68],[1320,14.67],[1340,14.69],[1360,14.67],[1380,14.68],[1400,14.66],[1420,14.68],[1440,14.67],[1460,14.65],[1480,14.67],[1500,14.66],[1520,14.68],[1540,14.66],[1560,14.67],[1580,14.65],[1600,14.67],[1620,14.66],[1640,14.65],[1660,14.67],[1680,14.66],[1700,14.64],[1720,14.66],[1740,14.65],[1760,14.67],[1780,14.66],[1800,14.64],
  [1250,14.71],[1350,14.72],[1450,14.63],[1550,14.71],[1650,14.62],[1750,14.7],[1430,14.72],
  [1830,14.66],[1860,14.65],[1890,14.67],[1920,14.66],[1950,14.64],[1980,14.66],[2010,14.67],[2040,14.65],[2070,14.66],[2100,14.68],[2130,14.66],[2160,14.67],[2190,14.65],[2220,14.67],[2250,14.66],[2280,14.64],[2310,14.66],[2340,14.65],[2370,14.63],[2400,14.66],[2430,14.64],[2460,14.65],[2490,14.67],[2520,14.65],[2550,14.66],[2580,14.64],[2610,14.66],[2640,14.65],[2670,14.67],[2700,14.65],[2730,14.66],
  [2060,14.6],[1980,14.7],[2200,14.71],[2350,14.62],[2500,14.7],[2640,14.62],[2720,14.63],[2160,14.7]];
const p13Black = [
  [3320,14.67],[3340,14.665],[3360,14.67],[3380,14.675],[3400,14.67],[3420,14.665],[3440,14.67],[3460,14.68],[3480,14.67],[3500,14.675],[3520,14.68],[3535,14.73],
  [3660,14.67],[3680,14.675],[3700,14.67],[3720,14.665],[3740,14.67],[3760,14.68],[3780,14.67],[3800,14.665],[3820,14.67],[3840,14.675],[3860,14.67],
  [4010,14.665],[4030,14.67],[4050,14.66],[4070,14.665],[4090,14.67],[4110,14.665],[4130,14.67],[4150,14.675],[4170,14.67],[4190,14.665],[4210,14.67],[4230,14.68],[4250,14.67],
  [4390,14.675],[4410,14.68],[4430,14.685],[4450,14.68],[4470,14.69],[4490,14.685],[4510,14.68],[4530,14.69],[4550,14.685],[4570,14.68],[4590,14.69],[4610,14.685],
  [4760,14.685],[4780,14.68],[4800,14.69],[4820,14.685],[4840,14.68],[4860,14.675],[4880,14.68],[4900,14.685],[4920,14.68],[4940,14.675],
  [5110,14.69],[5130,14.695],[5150,14.7],[5170,14.69],[5190,14.685],[5210,14.68],[5230,14.685],[5250,14.68],[5270,14.675],[5290,14.68],[5310,14.675],
  [5480,14.67],[5500,14.665],[5520,14.67],[5540,14.665],[5560,14.67],[5580,14.66],[5600,14.665],[5620,14.67],[5640,14.665],[5660,14.67],[5680,14.665],
  [5830,14.67],[5850,14.665],[5870,14.67],[5890,14.66],[5910,14.665],[5930,14.67],[5950,14.665],[5970,14.67],[5990,14.665],[6010,14.66],[6030,14.665],[6050,14.67],[6070,14.665]];

const panels = [
  { red: p1Red, black: p1Black, blackSegs: p1BlackSegs },
  { red: p2Red, black: p2Black },
  { redSegs: p3RedSegs, blackSegs: p3BlackSegs, black: p3Black },
  { red: p4Red, black: p4Black },
  { redSegs: p5RedSegs, blackSegs: p5BlackSegs, black: p5Black, smooth: true },
  { red: p6Red, black: p6Black },
  { red: p7Red, black: p7Black },
  { red: p8Red, blackSegs: p8BlackSegs },
  { red: p9Red, black: p9Black },
  { red: p10Red, black: p10Black },
  { red: p11Red, black: p11Black },
  { red: p12Red, black: p12Black },
  { red: p13Red, black: p13Black }
];

const RED = '#ff0000';
const BLACK = '#000000';
const FONT = '"DejaVu Sans", sans-serif';
const top0 = 7, bottom0 = 699;
const H = (bottom0 - top0) / panels.length;

const grids = [], xAxes = [], yAxes = [], series = [];

panels.forEach((p, i) => {
  grids.push({ left: 66, width: 484, top: top0 + i * H, height: H });
  const axisLine = { lineStyle: { color: BLACK, width: 1.5 } };
  const tick = { inside: true, length: 4, lineStyle: { color: BLACK, width: 1 } };
  const last = i === panels.length - 1;
  ['bottom', 'top'].forEach(pos => {
    xAxes.push({
      type: 'value', gridIndex: i, position: pos, min: 0, max: 6250, interval: 500,
      axisLine, axisTick: tick, splitLine: { show: false },
      axisLabel: {
        show: pos === 'bottom' && last, margin: 6, color: BLACK, fontFamily: FONT, fontSize: 11,
        formatter: v => xTickLabels.includes(v) ? String(v) : ''
      }
    });
  });
  ['left', 'right'].forEach(pos => {
    yAxes.push({
      type: 'value', gridIndex: i, position: pos, inverse: true,
      min: yMin[i], max: yMax[i], interval: yStep[i],
      axisLine, axisTick: { inside: true, length: 3, lineStyle: { color: BLACK, width: 1 } },
      splitLine: { show: false },
      axisLabel: {
        show: pos === 'left', margin: 4, color: BLACK, fontFamily: FONT, fontSize: 11,
        formatter: v => {
          const k = v / yLabelStep[i];
          return Math.abs(k - Math.round(k)) < 1e-3 ? String(+v.toFixed(2)) : '';
        }
      }
    });
  });

  const ax = { xAxisIndex: 2 * i, yAxisIndex: 2 * i };
  const addPts = (data, color, size) => series.push({
    type: 'scatter', ...ax, data, symbol: 'circle', symbolSize: size,
    itemStyle: { color }, silent: true
  });
  const addSegs = (segs, color, width) => segs.forEach(seg => series.push({
    type: 'line', ...ax, data: seg, showSymbol: false, smooth: p.smooth ? 0.5 : false,
    lineStyle: { color, width }, silent: true
  }));
  if (p.red) addPts(p.red, RED, 2.4);
  if (p.redSegs) addSegs(p.redSegs, RED, 2.2);
  if (p.black) addPts(p.black, BLACK, 2.2);
  if (p.blackSegs) addSegs(p.blackSegs, BLACK, p.smooth ? 1.8 : 2);
});

const graphic = starNames.map((name, i) => ({
  type: 'text', x: nameX[i], y: nameY[i], silent: true,
  style: { text: name, fill: BLACK, font: '11.5px ' + FONT, align: 'left', verticalAlign: 'middle', textAlign: 'left', textVerticalAlign: 'middle' }
}));
graphic.push({
  type: 'text', x: 302, y: 722, silent: true,
  style: { text: 'JD-2448800', fill: BLACK, font: '12px ' + FONT, align: 'center', verticalAlign: 'middle', textAlign: 'center', textVerticalAlign: 'middle' }
});
graphic.push({
  type: 'text', x: 13, y: 358, rotation: Math.PI / 2, silent: true,
  style: {
    text: '{a|I or M}{s|R}', fill: BLACK, align: 'center', verticalAlign: 'middle', textAlign: 'center', textVerticalAlign: 'middle',
    rich: {
      a: { fontFamily: FONT, fontSize: 12, fill: BLACK },
      s: { fontFamily: FONT, fontSize: 8, fill: BLACK, padding: [6, 0, 0, 0] }
    }
  }
});

const chart = echarts.init(document.getElementById('chart'));
chart.setOption({
  animation: false,
  backgroundColor: '#fff',
  grid: grids,
  xAxis: xAxes,
  yAxis: yAxes,
  series,
  graphic
});
</script>
</body>
</html>
